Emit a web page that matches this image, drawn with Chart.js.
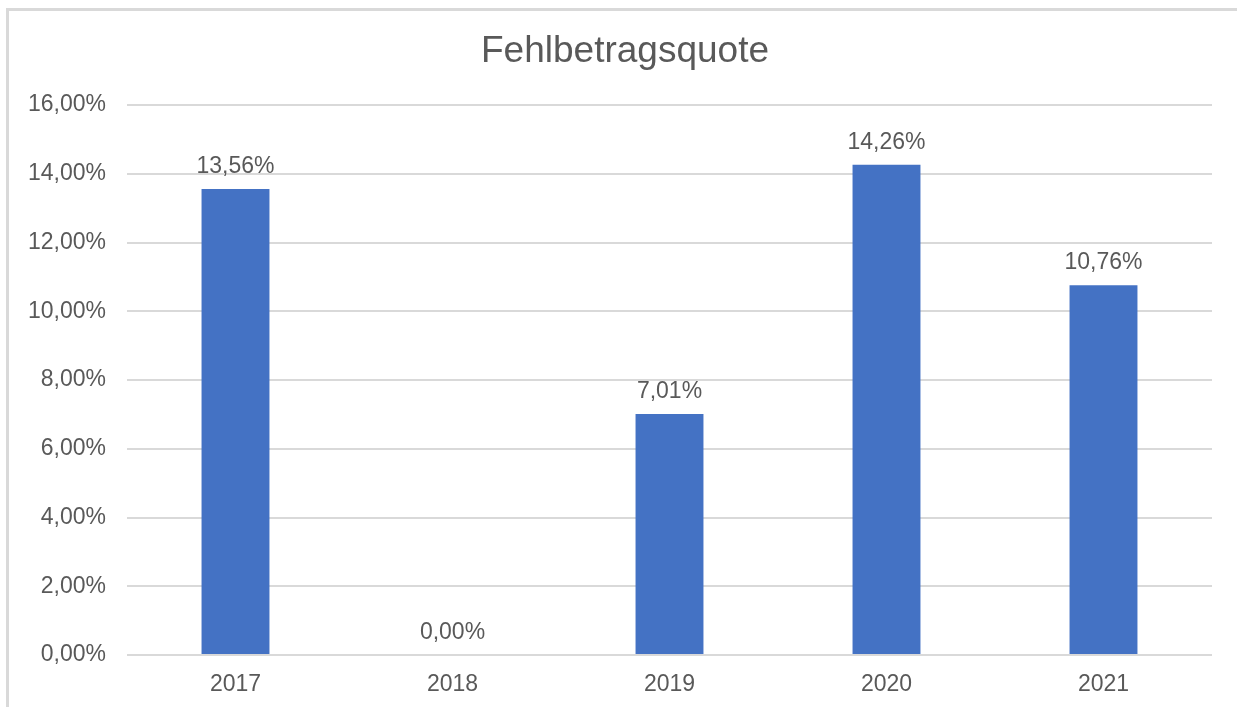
<!DOCTYPE html>
<html>
<head>
<meta charset="utf-8">
<script src="https://cdn.jsdelivr.net/npm/chart.js@4"></script>
<style>
  html, body { margin: 0; padding: 0; background: #fff; overflow: hidden; }
  #frame { position: absolute; left: 6px; top: 8px; width: 1300px; height: 800px; border: 3px solid #d9d9d9; box-sizing: border-box; }
  #wrap { position: absolute; left: 0; top: 0; width: 1237px; height: 707px; }
</style>
</head>
<body>
<div id="frame"></div>
<div id="wrap"><canvas id="c" width="1237" height="707"></canvas></div>
<script>
const categories = ["2017", "2018", "2019", "2020", "2021"];
const values = [13.56, 0.00, 7.01, 14.26, 10.76];
const yTicks = [0, 2, 4, 6, 8, 10, 12, 14, 16];
const chartTitle = "Fehlbetragsquote";

const FONT = "'Liberation Sans', Arial, sans-serif";
const TXT = "#595959";
const fmt = v => v.toFixed(2).replace(".", ",") + "%";

const labelPlugin = {
  id: "barLabels",
  afterDatasetsDraw(chart) {
    const ctx = chart.ctx;
    const meta = chart.getDatasetMeta(0);
    ctx.save();
    ctx.font = "23px " + FONT;
    ctx.fillStyle = TXT;
    ctx.textAlign = "center";
    ctx.textBaseline = "middle";
    meta.data.forEach((bar, i) => {
      ctx.fillText(fmt(values[i]), bar.x, bar.y - 22);
    });
    ctx.restore();
  }
};

const titlePlugin = {
  id: "frameTitle",
  afterDraw(chart) {
    const ctx = chart.ctx;
    ctx.save();
    ctx.font = "37px " + FONT;
    ctx.fillStyle = TXT;
    ctx.textAlign = "center";
    ctx.textBaseline = "middle";
    ctx.fillText(chartTitle, 625, 52);
    ctx.restore();
  }
};

new Chart(document.getElementById("c"), {
  type: "bar",
  data: {
    labels: categories,
    datasets: [{
      data: values,
      backgroundColor: "#4472C4",
      borderWidth: 0,
      categoryPercentage: 1,
      barPercentage: 0.313
    }]
  },
  options: {
    responsive: false,
    animation: false,
    devicePixelRatio: 1,
    layout: { padding: { left: 0, right: 25, top: 105, bottom: 0 } },
    plugins: {
      legend: { display: false },
      tooltip: { enabled: false },
      title: { display: false }
    },
    scales: {
      x: {
        afterFit(scale) { scale.height = 52; },
        grid: { display: false, drawTicks: false },
        border: { display: false },
        ticks: { color: TXT, font: { family: FONT, size: 23 }, padding: 16 }
      },
      y: {
        min: 0,
        max: 16,
        afterFit(scale) { scale.width = 127; },
        afterBuildTicks(scale) { scale.ticks = yTicks.map(v => ({ value: v })); },
        grid: { color: "#d9d9d9", lineWidth: 2, drawTicks: false },
        border: { display: false },
        ticks: {
          color: TXT,
          font: { family: FONT, size: 23 },
          padding: 21,
          callback: v => fmt(v)
        }
      }
    }
  },
  plugins: [labelPlugin, titlePlugin]
});
</script>
</body>
</html>
